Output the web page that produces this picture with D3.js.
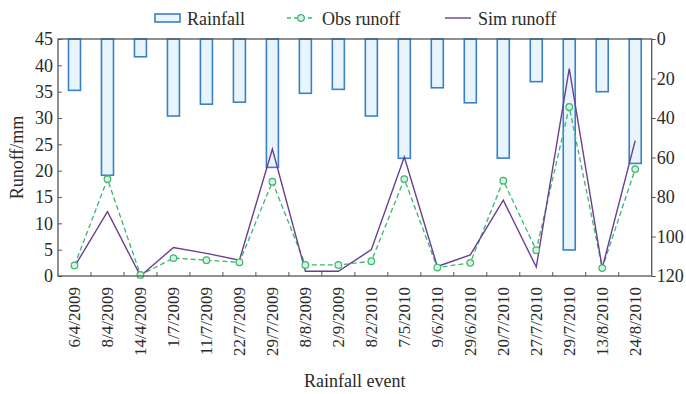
<!DOCTYPE html>
<html>
<head>
<meta charset="utf-8">
<script src="https://cdn.jsdelivr.net/npm/d3@7"></script>
<style>
  body { margin: 0; background: #fff; }
  svg text { font-family: "Liberation Serif", "DejaVu Serif", serif; fill: #2a2a2a; }
</style>
</head>
<body>
<svg id="chart" width="686" height="394"></svg>
<script>
// rainfall events
var events = ["6/4/2009", "8/4/2009", "14/4/2009", "1/7/2009", "11/7/2009", "22/7/2009",
    "29/7/2009", "8/8/2009", "2/9/2009", "8/2/2010", "7/5/2010", "9/6/2010",
    "29/6/2010", "20/7/2010", "27/7/2010", "29/7/2010", "13/8/2010", "24/8/2010"]

// rainfall, mm (right axis, inverted)
var rainfall = [26, 69, 9, 39, 33, 32, 65, 27.5, 25.5, 39, 60.4, 24.7, 32.3, 60.3, 21.6, 106.8, 26.7, 63]

// runoff, mm (left axis)
var obsRunoff = [2.0, 18.4, 0.2, 3.4, 3.0, 2.6, 17.9, 2.1, 2.1, 2.8, 18.4, 1.6, 2.5, 18.1, 4.9, 32.1, 1.5, 20.3]
var simRunoff = [1.8, 12.2, 0, 5.4, 4.3, 3.0, 24.1, 0.9, 0.9, 5.0, 22.6, 1.8, 4.0, 14.4, 1.7, 39.4, 1.5, 25.7]

var runoffTicks = [0, 5, 10, 15, 20, 25, 30, 35, 40, 45]
var rainTicks = [0, 20, 40, 60, 80, 100, 120]

// note: "top" is a read-only window property, so plot edges get their own names
var plotL = 58, plotR = 651.7, plotT = 39, plotB = 276
var width = plotR - plotL, height = plotB - plotT

var colorBar = "#3a80c8", colorBarFill = "#e9f5fc",
    colorObs = "#3bb66f", colorSim = "#6a3e90", colorAxis = "#555"

var svg = d3.select("#chart")
var g = svg.append("g").attr("transform", "translate(" + plotL + "," + plotT + ")")

var x = d3.scaleBand().domain(events).range([0, width]).padding(0)
var yL = d3.scaleLinear().domain([0, 45]).range([height, 0])
var yR = d3.scaleLinear().domain([0, 120]).range([0, height])

var cx = function(i) { return x(events[i]) + x.bandwidth() / 2 }

// rainfall bars hanging from the top
var barW = 12
g.append("g").selectAll("rect")
    .data(rainfall)
    .enter().append("rect")
    .attr("x", function(d, i) { return cx(i) - barW / 2 })
    .attr("y", yR(0))
    .attr("width", barW)
    .attr("height", function(d) { return yR(d) - yR(0) })
    .style("fill", colorBarFill)
    .style("stroke", colorBar)
    .style("stroke-width", 1.6)

// runoff lines
var runoffLine = d3.line().x(function(d, i) { return cx(i) }).y(function(d) { return yL(d) })
g.append("path")
    .datum(obsRunoff)
    .attr("d", runoffLine)
    .style("fill", "none")
    .style("stroke", colorObs)
    .style("stroke-width", 1.3)
    .style("stroke-dasharray", "5,3")

g.append("path")
    .datum(simRunoff)
    .attr("d", runoffLine)
    .style("fill", "none")
    .style("stroke", colorSim)
    .style("stroke-width", 1.4)

g.append("g").selectAll("circle")
    .data(obsRunoff)
    .enter().append("circle")
    .attr("cx", function(d, i) { return cx(i) })
    .attr("cy", function(d) { return yL(d) })
    .attr("r", 3.3)
    .style("fill", "#d8f3e2")
    .style("stroke", colorObs)
    .style("stroke-width", 1.2)

// frame
g.append("rect")
    .attr("width", width).attr("height", height)
    .style("fill", "none").style("stroke", colorAxis).style("stroke-width", 1.3)

// left axis, ticks inward
var axL = g.append("g")
    .call(d3.axisLeft(yL).tickValues(runoffTicks).tickSize(-4).tickPadding(5))
axL.select(".domain").remove()
axL.selectAll("line").style("stroke", colorAxis)
axL.selectAll("text").style("font-size", "18px").style("font-family", "Liberation Serif")

// right axis, ticks outward
var axR = g.append("g")
    .attr("transform", "translate(" + width + ",0)")
    .call(d3.axisRight(yR).tickValues(rainTicks).tickSize(4).tickPadding(1))
axR.select(".domain").remove()
axR.selectAll("line").style("stroke", colorAxis)
axR.selectAll("text").style("font-size", "18px").style("font-family", "Liberation Serif")

// bottom ticks at band boundaries, pointing up
g.append("g").selectAll("line")
    .data(events.slice(1))
    .enter().append("line")
    .attr("x1", function(d) { return x(d) })
    .attr("x2", function(d) { return x(d) })
    .attr("y1", height).attr("y2", height - 4)
    .style("stroke", colorAxis)

// rotated event labels
g.append("g").selectAll("text")
    .data(events)
    .enter().append("text")
    .attr("transform", function(d, i) { return "translate(" + cx(i) + "," + (height + 11) + ") rotate(-90)" })
    .attr("text-anchor", "end")
    .attr("dy", "0.35em")
    .style("font-size", "17px")
    .text(function(d) { return d })

// axis titles
svg.append("text")
    .attr("x", plotL + width / 2).attr("y", 387)
    .attr("text-anchor", "middle")
    .style("font-size", "18px")
    .text("Rainfall event")

svg.append("text")
    .attr("transform", "translate(23," + (plotT + height / 2) + ") rotate(-90)")
    .attr("text-anchor", "middle")
    .style("font-size", "18px")
    .text("Runoff/mm")

// legend
var key = svg.append("g").attr("class", "legend")
key.append("rect")
    .attr("x", 155).attr("y", 14).attr("width", 25).attr("height", 8)
    .style("fill", colorBarFill).style("stroke", colorBar).style("stroke-width", 1.6)
key.append("text").attr("x", 187).attr("y", 25).style("font-size", "18px").text("Rainfall")

key.append("line")
    .attr("x1", 287).attr("x2", 315).attr("y1", 18).attr("y2", 18)
    .style("stroke", colorObs).style("stroke-width", 1.3).style("stroke-dasharray", "4,3")
key.append("circle")
    .attr("cx", 301).attr("cy", 18).attr("r", 3.3)
    .style("fill", "#d8f3e2").style("stroke", colorObs).style("stroke-width", 1.2)
key.append("text").attr("x", 322).attr("y", 25).style("font-size", "18px").text("Obs runoff")

key.append("line")
    .attr("x1", 445).attr("x2", 471).attr("y1", 18).attr("y2", 18)
    .style("stroke", colorSim).style("stroke-width", 1.4)
key.append("text").attr("x", 478).attr("y", 25).style("font-size", "18px").text("Sim runoff")
</script>
</body>
</html>
